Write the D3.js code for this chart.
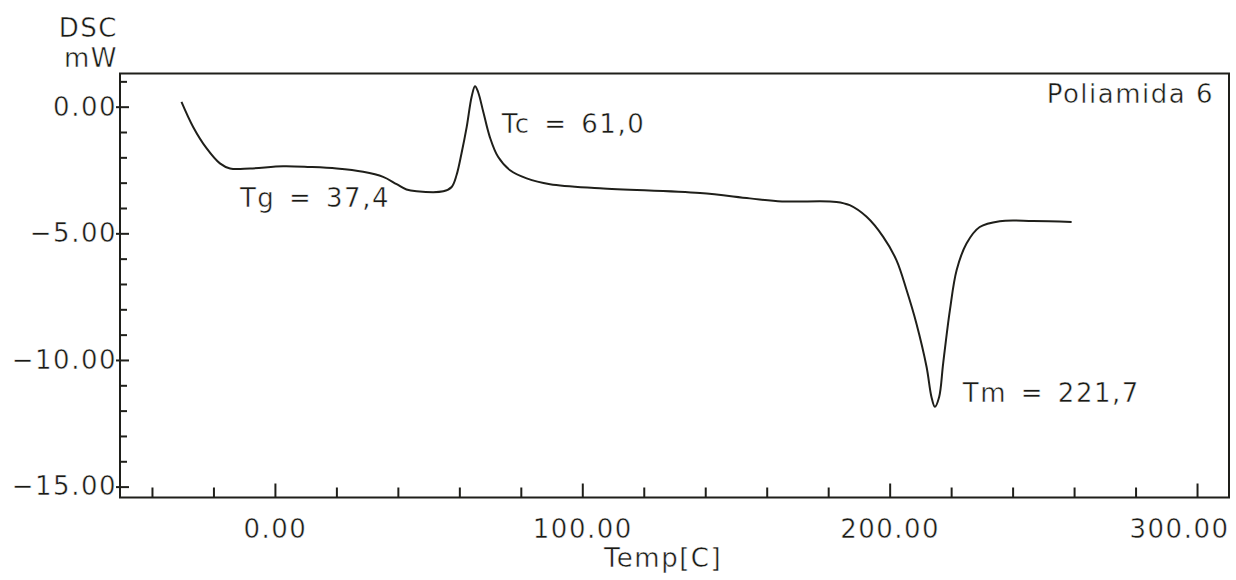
<!DOCTYPE html>
<html>
<head>
<meta charset="utf-8">
<script src="https://cdn.jsdelivr.net/npm/d3@7"></script>
<style>
  html, body { margin: 0; padding: 0; background: #ffffff; }
  svg { display: block; }
  text { font-family: "DejaVu Sans", "Liberation Sans", sans-serif; fill: #1a1a15; letter-spacing: 1.5px;
         stroke: #ffffff; stroke-width: 0.45px; }
</style>
</head>
<body>
<svg id="chart" width="1236" height="580"></svg>
<script>
// DSC thermogram of polyamide 6: temperature (°C) vs heat flow (mW)
const temps = [-30.4, -26.6, -22.2, -17.9, -14.6, -8.1, 2.7, 11.4, 20.1, 28.7, 35.2, 39.6, 42.8, 46.1,
  54.8, 57.5, 59.1, 60.7, 62.4, 64.0, 65.1, 66.1, 67.8, 69.9, 72.6, 76.5, 81.9, 89.5, 105.7, 138.3,
  154.5, 165.0, 182.7, 187.0, 192.5, 197.9, 202.2, 205.5, 208.7, 212.0, 213.6, 214.7, 216.1, 217.4,
  219.6, 221.8, 225.0, 229.3, 235.8, 246.6, 259.2];
const heatFlow = [0.19, -0.80, -1.65, -2.24, -2.44, -2.44, -2.35, -2.38, -2.44, -2.57, -2.77, -3.06, -3.27, -3.34,
  -3.34, -3.17, -2.70, -1.85, -0.80, 0.39, 0.81, 0.58, -0.21, -1.19, -1.98, -2.51, -2.83, -3.06, -3.22, -3.41,
  -3.62, -3.74, -3.76, -3.89, -4.35, -5.14, -6.06, -7.24, -8.56, -10.27, -11.46, -11.85, -11.46, -10.14,
  -8.03, -6.45, -5.40, -4.75, -4.52, -4.51, -4.55];

const xMajorTicks = [0, 100, 200, 300];
const xMinorTicks = [-40, -20, 20, 40, 60, 80, 120, 140, 160, 180, 220, 240, 260, 280];
const yMajorTicks = [0, -5, -10, -15];
const yMinorTicks = [1, -1, -2, -3, -4, -6, -7, -8, -9, -11, -12, -13, -14];

// transition annotations: label text and anchor in data units (left edge, baseline)
const noteTexts = ["Tg = 37,4", "Tc = 61,0", "Tm = 221,7"];
const noteTemps = [-11.4, 73.8, 223.8];
const noteFlows = [-3.97, -1.05, -11.67];

const sampleName = "Poliamida 6";

const svg = d3.select("#chart");
const frame = { left: 120, right: 1229, top: 73.5, bottom: 497.5 };
const ink = "#1f1f1a";

const x = d3.scaleLinear().domain([-50.4, 310.4]).range([frame.left, frame.right]);
const y = d3.scaleLinear().domain([-15.43, 1.31]).range([frame.bottom, frame.top]);

// plot frame
svg.append("rect")
  .attr("x", frame.left).attr("y", frame.top)
  .attr("width", frame.right - frame.left).attr("height", frame.bottom - frame.top)
  .attr("fill", "none").attr("stroke", ink).attr("stroke-width", 2);

const fmt = d3.format(".2f");
const fmtLabel = v => fmt(v).replace("-", "\u2212");

// x axis: inward ticks, labels below
const gx = svg.append("g").attr("transform", `translate(0,${frame.bottom})`)
  .call(d3.axisBottom(x).tickValues(xMajorTicks).tickSize(-14).tickSizeOuter(0).tickPadding(22).tickFormat(fmtLabel));
const gxm = svg.append("g").attr("transform", `translate(0,${frame.bottom})`)
  .call(d3.axisBottom(x).tickValues(xMinorTicks).tickSize(-10).tickSizeOuter(0).tickFormat(""));

// y axis: inward ticks, labels to the left
const gy = svg.append("g").attr("transform", `translate(${frame.left},0)`)
  .call(d3.axisLeft(y).tickValues(yMajorTicks).tickSize(-9).tickSizeOuter(0).tickPadding(3).tickFormat(fmtLabel));
const gym = svg.append("g").attr("transform", `translate(${frame.left},0)`)
  .call(d3.axisLeft(y).tickValues(yMinorTicks).tickSize(-7).tickSizeOuter(0).tickFormat(""));

[gx, gxm, gy, gym].forEach(g => {
  g.select(".domain").remove();
  g.selectAll(".tick line").attr("stroke", ink).attr("stroke-width", 2);
  g.selectAll(".tick text").attr("font-size", 26).attr("fill", "#1a1a15")
    .style("font-family", "'DejaVu Sans', sans-serif");
});
gy.selectAll(".tick line").attr("x1", -4);
// last x label kept inside the page, right-aligned to the frame edge
gx.selectAll(".tick text").filter(d => d === 300)
  .attr("text-anchor", "end").attr("x", frame.right - x(300));

// axis titles
svg.append("text").attr("x", 118).attr("y", 37).attr("text-anchor", "end")
  .attr("font-size", 26).text("DSC");
svg.append("text").attr("x", 118).attr("y", 67).attr("text-anchor", "end")
  .attr("font-size", 26).text("mW");
svg.append("text").attr("x", 663).attr("y", 567).attr("text-anchor", "middle")
  .attr("font-size", 26).text("Temp[C]");

// thermogram trace
const points = temps.map((t, i) => [t, heatFlow[i]]);
svg.append("path")
  .datum(points)
  .attr("fill", "none")
  .attr("stroke", ink)
  .attr("stroke-width", 2)
  .attr("stroke-linejoin", "round")
  .attr("d", d3.line().x(d => x(d[0])).y(d => y(d[1])).curve(d3.curveCatmullRom.alpha(0.5)));

// transition labels
noteTexts.forEach((t, i) => {
  svg.append("text")
    .attr("x", x(noteTemps[i])).attr("y", y(noteFlows[i]))
    .attr("font-size", 26).attr("word-spacing", 4)
    .text(t);
});

// sample name
svg.append("text").attr("x", 1214).attr("y", 103).attr("text-anchor", "end")
  .attr("font-size", 26).text(sampleName);
</script>
</body>
</html>
